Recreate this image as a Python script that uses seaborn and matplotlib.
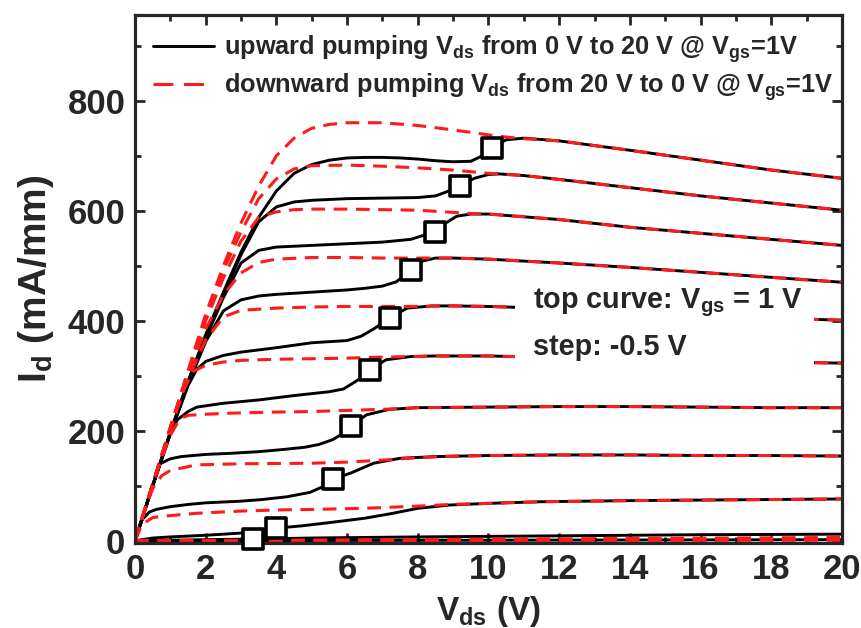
import matplotlib
matplotlib.use("Agg")
import matplotlib.pyplot as plt
import seaborn as sns
from matplotlib import font_manager
from matplotlib.lines import Line2D
from matplotlib.patches import Rectangle
from matplotlib.ticker import MultipleLocator

# ---- data (Vds in V, Id in mA/mm) ----
# Vgs = 1 V
up_1_x = [0, 0.5, 1, 1.5, 2, 2.5, 3, 3.5, 4, 4.5, 5, 5.5, 6, 6.5, 7, 7.5, 8, 8.5, 9, 9.5, 9.8, 10.1, 10.5, 11, 12, 14, 16, 18, 20]
up_1_y = [0, 100, 198, 290, 375, 452, 525, 588, 636, 668, 684, 692, 696, 697, 697, 696, 694, 691, 689, 690, 699, 715, 729, 732, 727, 710, 692, 674, 659]
dn_1_x = [0, 0.5, 1, 1.5, 2, 2.5, 3, 3.5, 4, 4.5, 5, 5.5, 6, 7, 8, 9, 10, 10.5, 11, 12, 14, 16, 18, 20]
dn_1_y = [0, 103, 206, 309, 412, 500, 578, 645, 700, 732, 750, 757, 760, 760, 755, 747, 738, 734, 731, 727, 710, 692, 674, 659]
# Vgs = 0.5 V
up_2_x = [0, 0.5, 1, 1.5, 2, 2.5, 3, 3.5, 4, 4.5, 5, 6, 7, 8, 8.5, 8.8, 9.2, 9.6, 10, 10.3, 11, 12, 14, 16, 18, 20]
up_2_y = [0, 100, 197, 289, 372, 448, 520, 580, 607, 616, 619, 622, 623, 624, 627, 634, 645, 659, 666, 667, 664, 657, 642, 627, 614, 601]
dn_2_x = [0, 0.5, 1, 1.5, 2, 2.5, 3, 3.5, 4, 4.5, 5, 6, 7, 8, 9, 9.5, 10, 10.3, 11, 12, 14, 16, 18, 20]
dn_2_y = [0, 103, 206, 308, 408, 492, 562, 622, 658, 676, 682, 683, 681, 678, 674, 671, 668, 667, 664, 657, 642, 627, 614, 601]
# Vgs = 0 V
up_3_x = [0, 0.5, 1, 1.5, 2, 2.5, 3, 3.5, 4, 5, 6, 7, 7.8, 8.2, 8.5, 8.8, 9.1, 9.5, 10, 11, 12, 14, 16, 18, 20]
up_3_y = [0, 100, 196, 287, 368, 442, 505, 528, 534, 537, 540, 543, 548, 556, 562, 578, 590, 594, 594, 589, 584, 570, 559, 548, 537]
dn_3_x = [0, 0.5, 1, 1.5, 2, 2.5, 3, 3.5, 4, 4.5, 5, 6, 7, 8, 9, 9.5, 10, 11, 12, 14, 16, 18, 20]
dn_3_y = [0, 103, 205, 305, 400, 478, 545, 588, 598, 602, 603, 603, 602, 601, 597, 595, 594, 589, 584, 570, 559, 548, 537]
# Vgs = -0.5 V
up_4_x = [0, 0.5, 1, 1.5, 2, 2.5, 3, 3.5, 4, 5, 6, 6.5, 7, 7.4, 7.8, 8.1, 8.5, 9, 10, 12, 14, 16, 18, 20]
up_4_y = [0, 100, 195, 284, 362, 418, 438, 445, 448, 452, 456, 459, 463, 471, 493, 508, 514, 514, 512, 505, 497, 488, 479, 470]
dn_4_x = [0, 0.5, 1, 1.5, 2, 2.5, 3, 3.5, 4, 5, 6, 7, 8, 9, 10, 12, 14, 16, 18, 20]
dn_4_y = [0, 103, 205, 302, 385, 447, 487, 506, 512, 515, 515, 514, 514, 514, 512, 505, 497, 488, 479, 470]
# Vgs = -1 V
up_5_x = [0, 0.5, 1, 1.5, 1.75, 2, 2.5, 3, 4, 5, 6, 6.4, 6.75, 7.2, 7.7, 8.4, 9, 10, 11, 12, 14, 16, 18, 20]
up_5_y = [0, 100, 195, 282, 312, 326, 337, 343, 351, 360, 364, 372, 385, 405, 423, 427, 427, 426, 424, 421, 416, 410, 405, 401]
dn_5_x = [0, 0.5, 1, 1.5, 2, 2.5, 3, 4, 5, 6, 7, 8, 9, 10, 11, 12, 14, 16, 18, 20]
dn_5_y = [0, 103, 204, 295, 365, 407, 419, 423, 425, 426, 426, 426, 427, 426, 424, 421, 416, 410, 405, 401]
# Vgs = -1.5 V
up_6_x = [0, 0.5, 0.8, 1, 1.2, 1.5, 1.75, 2.5, 3.5, 4.5, 5.5, 5.9, 6.3, 6.65, 7.1, 7.8, 8.5, 10, 12, 14, 16, 18, 20]
up_6_y = [0, 100, 158, 195, 220, 235, 243, 250, 256, 264, 271, 276, 292, 311, 329, 335, 336, 336, 333, 330, 327, 325, 323]
dn_6_x = [0, 0.5, 1, 1.3, 1.65, 2, 2.5, 3, 4, 5, 6, 7, 8, 8.5, 10, 12, 14, 16, 18, 20]
dn_6_y = [0, 103, 200, 265, 308, 319, 325, 328, 330, 331, 332, 334, 335, 336, 336, 333, 330, 327, 325, 323]
# Vgs = -2 V
up_7_x = [0, 0.4, 0.71, 1, 1.3, 2, 2.7, 3.5, 4.2, 4.8, 5.2, 5.6, 5.9, 6.1, 6.55, 7.2, 8, 10, 12, 14, 16, 18, 20]
up_7_y = [0, 82, 140, 149, 153, 157, 159, 162, 166, 170, 175, 184, 196, 208, 229, 239, 242, 243, 244, 244, 243, 242, 242]
dn_7_x = [0, 0.5, 0.8, 1, 1.27, 1.5, 2, 2.7, 4, 5, 6, 7, 7.5, 8, 10, 12, 14, 16, 18, 20]
dn_7_y = [0, 102, 158, 192, 222, 228, 230, 232, 234, 235, 237, 239, 240, 242, 243, 244, 244, 243, 242, 242]
# Vgs = -2.5 V
up_8_x = [0, 0.2, 0.4, 0.6, 1, 1.5, 2, 3, 3.6, 4.3, 4.95, 5.3, 5.6, 6.1, 6.75, 7.5, 8.5, 10, 12, 14, 16, 18, 20]
up_8_y = [0, 38, 52, 57, 62, 66, 69, 72, 75, 80, 88, 98, 112, 123, 141, 150, 153, 155, 156, 156, 155, 155, 154]
dn_8_x = [0, 0.3, 0.5, 0.75, 1, 1.75, 3, 5, 6, 7.1, 8, 9, 10, 12, 14, 16, 18, 20]
dn_8_y = [0, 60, 95, 118, 128, 138, 140, 141, 143, 147, 151, 154, 155, 156, 156, 155, 155, 154]
# Vgs = -3 V
up_9_x = [0, 0.5, 1, 2, 3, 3.5, 4, 4.7, 5.5, 6.5, 7.3, 8, 8.9, 10, 11.5, 14, 16, 18, 20]
up_9_y = [0, 5, 7, 10, 14, 17, 23, 27, 33, 41, 50, 59, 65, 68, 71, 73, 74, 75, 76]
dn_9_x = [0, 0.2, 0.5, 0.7, 1.75, 3, 4, 5, 6.5, 8, 8.9, 10, 11.5, 14, 16, 18, 20]
dn_9_y = [0, 30, 42, 44, 50, 54, 56, 57, 59, 63, 66, 68, 71, 73, 74, 75, 76]
# Vgs = -3.5 V
up_10_x = [0, 1, 2, 3.3, 5, 8, 12, 16, 20]
up_10_y = [0, 1, 2, 3, 5, 7, 9, 11, 12]
dn_10_x = [0, 4, 10, 20]
dn_10_y = [0, 1, 3, 6]
# Vgs = -4 V
up_11_x = [0, 20]
up_11_y = [0, 2]
dn_11_x = [0, 20]
dn_11_y = [0, 1]

# open squares marking the jump on the upward sweeps
mark_x = [10.1, 9.2, 8.5, 7.8, 7.2, 6.65, 6.1, 5.6, 4.0, 3.35]
mark_y = [715, 645, 562, 493, 405, 311, 208, 112, 23, 4]

up_curves = [(up_1_x, up_1_y), (up_2_x, up_2_y), (up_3_x, up_3_y), (up_4_x, up_4_y),
             (up_5_x, up_5_y), (up_6_x, up_6_y), (up_7_x, up_7_y), (up_8_x, up_8_y),
             (up_9_x, up_9_y), (up_10_x, up_10_y), (up_11_x, up_11_y)]
dn_curves = [(dn_1_x, dn_1_y), (dn_2_x, dn_2_y), (dn_3_x, dn_3_y), (dn_4_x, dn_4_y),
             (dn_5_x, dn_5_y), (dn_6_x, dn_6_y), (dn_7_x, dn_7_y), (dn_8_x, dn_8_y),
             (dn_9_x, dn_9_y), (dn_10_x, dn_10_y), (dn_11_x, dn_11_y)]

# the original text is tall and narrow, use the narrow face if it is there
installed = {f.name for f in font_manager.fontManager.ttflist}
if "Liberation Sans Narrow" in installed:
    narrow = "Liberation Sans Narrow"
    k = 1.0
else:
    narrow = "Liberation Sans"
    k = 0.83

sns.set_theme(style="ticks")
plt.rcParams["font.family"] = [narrow, "Liberation Sans", "DejaVu Sans"]
plt.rcParams["font.weight"] = "bold"
plt.rcParams["axes.labelweight"] = "bold"
plt.rcParams["mathtext.fontset"] = "custom"
plt.rcParams["mathtext.rm"] = narrow + ":bold"
plt.rcParams["mathtext.it"] = narrow + ":bold"
plt.rcParams["mathtext.bf"] = narrow + ":bold"
plt.rcParams["mathtext.default"] = "bf"

fig = plt.figure(figsize=(8.61, 6.28), dpi=100)
ax = fig.add_axes([0.1568, 0.1354, 0.8211, 0.8408])

red = "#ff1a1a"
red_dash = (0, (4.5, 2.8))
for x, y in up_curves:
    sns.lineplot(x=x, y=y, ax=ax, color="black", lw=2.1, estimator=None, zorder=2)
for x, y in dn_curves:
    sns.lineplot(x=x, y=y, ax=ax, color=red, lw=2.2, linestyle=red_dash,
                 estimator=None, zorder=2.5)

sns.scatterplot(x=mark_x, y=mark_y, ax=ax, marker="s", s=200, facecolor="white",
                edgecolor="black", linewidth=2.6, zorder=4, clip_on=False)

# white box behind the annotation
ax.add_patch(Rectangle((10.75, 292), 8.45, 165, facecolor="white", edgecolor="none", zorder=3))
ax.text(11.25, 433, "top curve: V$_{gs}$ = 1 V", fontsize=25 * k, va="center", zorder=5)
ax.text(11.25, 352, "step: -0.5 V", fontsize=25 * k, va="center", zorder=5)

ax.set_xlim(0, 20)
ax.set_ylim(-4, 956)
ax.xaxis.set_major_locator(MultipleLocator(2))
ax.xaxis.set_minor_locator(MultipleLocator(1))
ax.yaxis.set_major_locator(MultipleLocator(200))
ax.yaxis.set_minor_locator(MultipleLocator(100))
ax.tick_params(which="both", direction="in", top=True, right=True, width=2)
ax.tick_params(which="major", length=7, labelsize=30 * k, pad=7)
ax.tick_params(which="minor", length=4)
for lbl in ax.get_xticklabels() + ax.get_yticklabels():
    lbl.set_fontweight("bold")
for sp in ax.spines.values():
    sp.set_linewidth(2.3)

ax.set_xlabel("V$_{ds}$ (V)", fontsize=29 * k, labelpad=6)
ax.set_ylabel("I$_{d}$ (mA/mm)", fontsize=28, labelpad=8,
              family=["Liberation Sans", "DejaVu Sans"])

handles = [Line2D([], [], color="black", lw=2.1),
           Line2D([], [], color=red, lw=2.2, linestyle=(0, (6.5, 3.5)))]
labels = ["upward pumping V$_{ds}$ from 0 V to 20 V @ V$_{gs}$=1V",
          "downward pumping V$_{ds}$ from 20 V to 0 V @ V$_{gs}$=1V"]
ax.legend(handles, labels, loc="upper left", bbox_to_anchor=(0.026, 0.965),
          frameon=False, fontsize=22 * k, handlelength=2.4, handletextpad=0.4,
          labelspacing=0.25, borderaxespad=0, borderpad=0)

fig.savefig("out.png", dpi=100)
